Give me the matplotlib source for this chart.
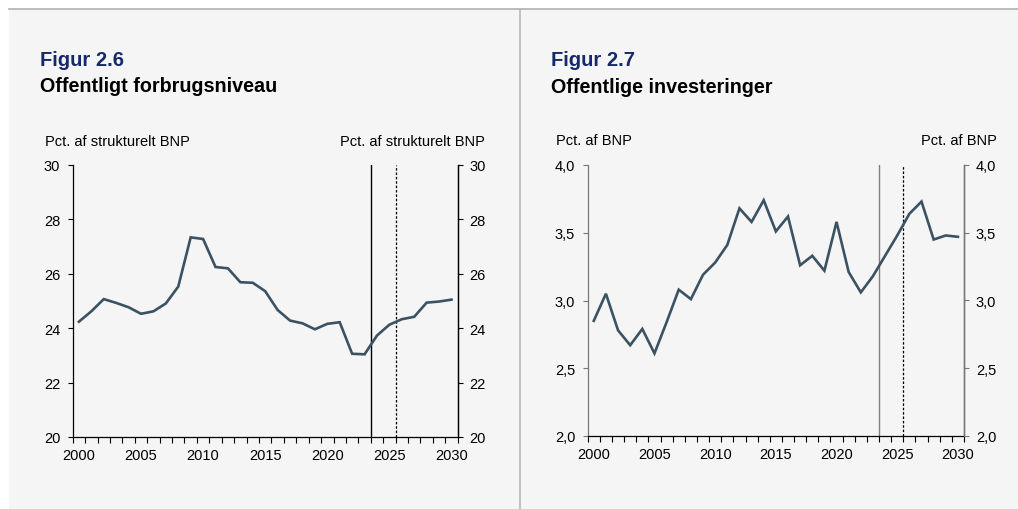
import matplotlib
matplotlib.use("Agg")
import matplotlib.pyplot as plt
from matplotlib.patches import Rectangle
from matplotlib.lines import Line2D
from matplotlib.ticker import FixedLocator, FuncFormatter

plt.rcParams['font.family'] = ['Liberation Sans', 'DejaVu Sans']

years = list(range(2000, 2031))

# Figur 2.6 - public consumption, pct. of structural GDP
forbrug = [24.24, 24.62, 25.07, 24.93, 24.77, 24.53, 24.62, 24.91, 25.53, 27.34,
           27.28, 26.25, 26.20, 25.69, 25.67, 25.36, 24.67, 24.28, 24.18, 23.96,
           24.16, 24.22, 23.06, 23.04, 23.73, 24.13, 24.33, 24.42, 24.94, 24.98,
           25.05]

# Figur 2.7 - public investment, pct. of GDP
invest = [2.85, 3.05, 2.78, 2.67, 2.79, 2.61, 2.84, 3.08, 3.01, 3.19,
          3.28, 3.41, 3.68, 3.58, 3.74, 3.51, 3.62, 3.26, 3.33, 3.22,
          3.58, 3.21, 3.06, 3.18, 3.33, 3.48, 3.64, 3.73, 3.45, 3.48,
          3.47]

year_labels = [2000, 2005, 2010, 2015, 2020, 2025, 2030]

W, H = 1018, 510
fig = plt.figure(figsize=(W / 100, H / 100), dpi=100)
fig.patch.set_facecolor('white')

bg = '#f5f5f5'
line_col = '#3b5262'
navy = '#15296b'

# panel background and borders
fig.patches.append(Rectangle((9 / W, 0), 1 - 9 / W, 1 - 9.5 / H, transform=fig.transFigure,
                             facecolor=bg, edgecolor='none', zorder=-10))
fig.add_artist(Line2D([9 / W, 1], [1 - 9.5 / H, 1 - 9.5 / H], color='#b0b0b0', lw=1.2, zorder=-5))
fig.add_artist(Line2D([519.5 / W, 519.5 / W], [0, 1 - 9.5 / H], color='#b8b8b8', lw=1.2, zorder=-5))


def px(x, y):
    return x / W, 1 - y / H


def setup(ax, data, ylim, yticks, fmt, spine_col, vcol):
    ax.set_facecolor('none')
    ax.plot(years, data, color=line_col, lw=1.9, zorder=3, solid_joinstyle='miter')
    ax.set_xlim(1999.5, 2030.5)
    ax.set_ylim(*ylim)
    ax.axvline(2023.5, color=vcol, lw=1.0, zorder=2)
    ax.axvline(2025.5, color='black', lw=0.9, ls=(0, (2, 1.5)), zorder=2)
    ax.set_xticks(year_labels)
    ax.set_xticklabels([str(y) for y in year_labels])
    ax.tick_params(axis='x', which='major', length=0, pad=8, labelsize=10.5)
    ax.xaxis.set_minor_locator(FixedLocator([1999.5 + k for k in range(32)]))
    ax.tick_params(axis='x', which='minor', length=4.5, width=0.8, direction='out', color='black')
    ax.set_yticks(yticks)
    ax.yaxis.set_major_formatter(FuncFormatter(fmt))
    ax.tick_params(axis='y', length=3.5, width=0.8, pad=5.5, labelsize=10.5, color=spine_col)
    ax.spines['top'].set_visible(False)
    ax.spines['bottom'].set_color('black')
    ax.spines['left'].set_color(spine_col)
    for sp in ax.spines.values():
        sp.set_linewidth(0.9)
    ax2 = ax.twinx()
    ax2.set_ylim(*ylim)
    ax2.set_yticks(yticks)
    ax2.yaxis.set_major_formatter(FuncFormatter(fmt))
    ax2.tick_params(axis='y', length=3.5, width=0.8, pad=5, labelsize=10.5, color=spine_col)
    for s in ('top', 'left', 'bottom'):
        ax2.spines[s].set_visible(False)
    ax2.spines['right'].set_color(spine_col)
    ax2.spines['right'].set_linewidth(0.9)
    return ax2


# left chart
axL = fig.add_axes([72.7 / W, 1 - 438 / H, 385 / W, 272 / H])
setup(axL, forbrug, (20, 30), [20, 22, 24, 26, 28, 30],
      lambda v, p: f"{v:.0f}", 'black', 'black')

# right chart
axR = fig.add_axes([587.7 / W, 1 - 437 / H, 376.3 / W, 271 / H])
setup(axR, invest, (2.0, 4.0), [2.0, 2.5, 3.0, 3.5, 4.0],
      lambda v, p: f"{v:.1f}".replace('.', ','), '#777777', '#808080')

# titles
fig.text(*px(40.5, 66), "Figur 2.6", color=navy, fontsize=14.5, fontweight='bold', va='baseline')
fig.text(*px(40.5, 92), "Offentligt forbrugsniveau", color='black', fontsize=14.2,
         fontweight='bold', va='baseline')
fig.text(*px(45, 146), "Pct. af strukturelt BNP", fontsize=10.5, va='baseline')
fig.text(*px(485, 146), "Pct. af strukturelt BNP", fontsize=10.5, va='baseline', ha='right')

fig.text(*px(551, 66), "Figur 2.7", color=navy, fontsize=14.5, fontweight='bold', va='baseline')
fig.text(*px(551, 93), "Offentlige investeringer", color='black', fontsize=14.2,
         fontweight='bold', va='baseline')
fig.text(*px(556, 145), "Pct. af BNP", fontsize=10.5, va='baseline')
fig.text(*px(997, 145), "Pct. af BNP", fontsize=10.5, va='baseline', ha='right')

fig.savefig("out.png", dpi=100, facecolor=fig.get_facecolor())
plt.close(fig)
